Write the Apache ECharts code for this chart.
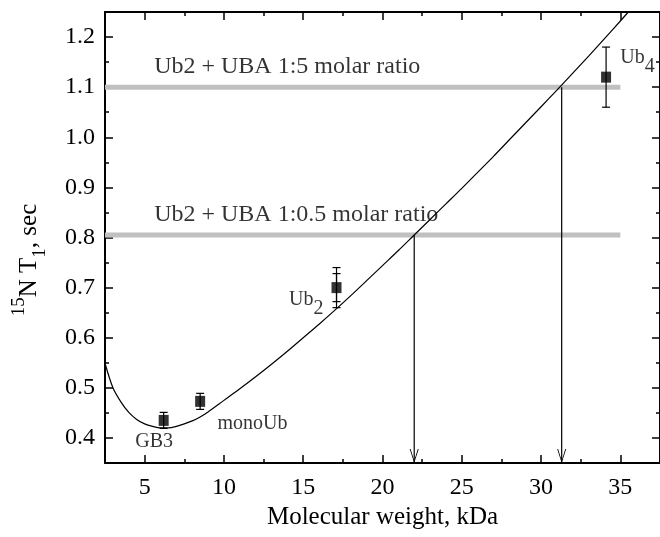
<!DOCTYPE html>
<html><head><meta charset="utf-8">
<script src="https://cdn.jsdelivr.net/npm/echarts@6/dist/echarts.min.js"></script>
<style>html,body{margin:0;padding:0;background:#fff}#c{width:660px;height:537px}</style>
</head><body><div id="c"></div>
<script>
// ---- data ----
const xMajorTicks = [5, 10, 15, 20, 25, 30, 35];
const xMinorTicks = [7.5, 12.5, 17.5, 22.5, 27.5, 32.5];
const yMajorTicks = [0.4, 0.5, 0.6, 0.7, 0.8, 0.9, 1.0, 1.1, 1.2];
const yMinorTicks = [0.45, 0.55, 0.65, 0.75, 0.85, 0.95, 1.05, 1.15];

const pointNames = ['GB3', 'monoUb', 'Ub2', 'Ub4'];
const pointX = [6.2, 8.5, 17.1, 34.1];
const pointY = [0.435, 0.473, 0.700, 1.120];
const pointErr = [0.016, 0.016, 0.040, 0.060];
const pointErrInner = [null, null, 0.028, null];

const fitX = [2.5,3,3.5,4,4.5,5,5.5,6,6.5,7,7.5,8,8.5,9,10,11,12,13,14,15,16,17,18,19,20,21,22,23,24,25,26,27,28,29,30,31,32,33,34,35,35.5];
const fitY = [0.549,0.500,0.472,0.451,0.437,0.428,0.423,0.420,0.420,0.423,0.428,0.434,0.442,0.452,0.475,0.498,0.522,0.547,0.573,0.600,0.627,0.655,0.684,0.714,0.744,0.774,0.805,0.836,0.867,0.898,0.930,0.962,0.995,1.028,1.061,1.094,1.128,1.162,1.197,1.232,1.250];

const refLevels = [1.10, 0.805];
const refStart = [2.5, 2.5];
const refEnd = [35, 35];
const refLabels = ['Ub2 + UBA 1:5 molar ratio', 'Ub2 + UBA 1:0.5 molar ratio'];
const arrowX = [31.3, 22.0];

// label anchors (data coords)
const refLabelX = [5.6, 5.6];
const refLabelY = [1.14, 0.845];
const pointLabelX = [5.6, 11.8, 14.1, 35.0];
const pointLabelY = [0.393, 0.428, 0.675, 1.159];
const pointLabelAlign = ['center', 'center', 'left', 'left'];
const pointLabelText = ['GB3', 'monoUb', 'Ub{s|2}', 'Ub{s|4}'];

// ---- chart ----
const FONT = 'Liberation Serif';
const XMIN = 2.5, XMAX = 37.5, YMIN = 0.35, YMAX = 1.25;
const black = '#000';

function xAx(pos, ticks, len, showLine, labels) {
  return {
    type: 'value', min: XMIN, max: XMAX, position: pos, gridIndex: 0,
    axisLine: {show: showLine, onZero: false, lineStyle: {color: black, width: 2}},
    axisTick: {show: true, inside: true, length: len, customValues: ticks, lineStyle: {color: black, width: 1.5}},
    axisLabel: labels ? {show: true, customValues: ticks, color: black, fontFamily: FONT, fontSize: 24, margin: 13} : {show: false},
    splitLine: {show: false}
  };
}
function yAx(pos, ticks, len, showLine, labels) {
  return {
    type: 'value', min: YMIN, max: YMAX, position: pos, gridIndex: 0,
    axisLine: {show: showLine, onZero: false, lineStyle: {color: black, width: 2}},
    axisTick: {show: true, inside: true, length: len, customValues: ticks, lineStyle: {color: black, width: 1.5}},
    axisLabel: labels ? {show: true, customValues: ticks, color: black, fontFamily: FONT, fontSize: 24, margin: 10,
      formatter: v => v.toFixed(1)} : {show: false},
    splitLine: {show: false}
  };
}

const xAxes = [
  xAx('bottom', xMajorTicks, 8, true, true),
  xAx('bottom', xMinorTicks, 4, false, false),
  xAx('top', xMajorTicks, 8, true, false),
  xAx('top', xMinorTicks, 4, false, false)
];
xAxes[0].name = 'Molecular weight, kDa';
xAxes[0].nameLocation = 'middle';
xAxes[0].nameGap = 38;
xAxes[0].nameTextStyle = {color: black, fontFamily: FONT, fontSize: 25};

const yAxes = [
  yAx('left', yMajorTicks, 8, true, true),
  yAx('left', yMinorTicks, 4, false, false),
  yAx('right', yMajorTicks, 8, true, false),
  yAx('right', yMinorTicks, 4, false, false)
];

const series = [];

refLevels.forEach((lvl, i) => {
  series.push({
    type: 'line', xAxisIndex: 0, yAxisIndex: 0, symbol: 'none', silent: true,
    data: [[refStart[i], lvl], [refEnd[i], lvl]],
    lineStyle: {color: '#c0c0c0', width: 5}, z: 1
  });
});

series.push({
  type: 'line', xAxisIndex: 0, yAxisIndex: 0, symbol: 'none', smooth: 0.3,
  data: fitX.map((x, i) => [x, fitY[i]]),
  lineStyle: {color: black, width: 1.2}, z: 3
});

const arrowPath = 'path://M0,0L5,14L10,0L9,0L5,11.5L1,0Z';
arrowX.forEach((x, i) => {
  series.push({
    type: 'line', xAxisIndex: 0, yAxisIndex: 0,
    symbol: arrowPath, symbolSize: [9, 14], symbolKeepAspect: false, symbolOffset: [0, '-50%'],
    showSymbol: true, clip: false,
    itemStyle: {color: black},
    data: [{value: [x, refLevels[i]], symbol: 'none'}, {value: [x, YMIN]}],
    lineStyle: {color: black, width: 1.2}, z: 4
  });
});

function errRender(params, api) {
  const x = api.value(0), y = api.value(1), e = api.value(2);
  const t = api.coord([x, y + e]), b = api.coord([x, y - e]);
  const w = 4;
  const st = {stroke: black, lineWidth: 1.2};
  return {type: 'group', children: [
    {type: 'line', shape: {x1: t[0], y1: t[1], x2: b[0], y2: b[1]}, style: st},
    {type: 'line', shape: {x1: t[0] - w, y1: t[1], x2: t[0] + w, y2: t[1]}, style: st},
    {type: 'line', shape: {x1: b[0] - w, y1: b[1], x2: b[0] + w, y2: b[1]}, style: st}
  ]};
}
series.push({
  type: 'custom', xAxisIndex: 0, yAxisIndex: 0, renderItem: errRender, encode: {x: 0, y: 1},
  data: pointX.map((x, i) => [x, pointY[i], pointErr[i]]), z: 5, silent: true
});
series.push({
  type: 'custom', xAxisIndex: 0, yAxisIndex: 0, renderItem: errRender, encode: {x: 0, y: 1},
  data: pointX.map((x, i) => [x, pointY[i], pointErrInner[i]]).filter(d => d[2] != null), z: 5, silent: true
});

series.push({
  type: 'scatter', xAxisIndex: 0, yAxisIndex: 0, symbol: 'rect', symbolSize: [10, 11],
  itemStyle: {color: black}, data: pointX.map((x, i) => ({name: pointNames[i], value: [x, pointY[i]]})), z: 6
});

// point labels
series.push({
  type: 'scatter', xAxisIndex: 0, yAxisIndex: 0, symbolSize: 0, silent: true, z: 7,
  data: pointLabelX.map((x, i) => ({
    value: [x, pointLabelY[i]],
    label: {show: true, position: 'inside', align: pointLabelAlign[i], verticalAlign: 'middle',
      formatter: pointLabelText[i],
      rich: {s: {fontFamily: FONT, fontSize: 20, color: black, padding: [18, 0, 0, 0]}}}
  })),
  label: {show: true, color: black, fontFamily: FONT, fontSize: 20}
});

// ref labels
series.push({
  type: 'scatter', xAxisIndex: 0, yAxisIndex: 0, symbolSize: 0, silent: true, z: 7,
  data: refLabelX.map((x, i) => ({
    value: [x, refLabelY[i]],
    label: {show: true, position: 'inside', align: 'left', verticalAlign: 'middle', formatter: refLabels[i]}
  })),
  label: {show: true, color: black, fontFamily: FONT, fontSize: 24}
});

const chart = echarts.init(document.getElementById('c'), null, {renderer: 'canvas'});
chart.setOption({
  animation: false,
  backgroundColor: '#fff',
  grid: {left: 105, top: 12, width: 557, height: 451, containLabel: false},
  xAxis: xAxes,
  yAxis: yAxes,
  series: series,
  graphic: [{
    type: 'text', x: 30, y: 260, rotation: Math.PI / 2,
    style: {
      text: '{p|15}{n|N T}{b|1}{n|, sec}',
      align: 'center', verticalAlign: 'middle',
      rich: {
        p: {fontFamily: FONT, fontSize: 19, fill: black, verticalAlign: 'top'},
        n: {fontFamily: FONT, fontSize: 25, fill: black, verticalAlign: 'top', padding: [7, 0, 0, 0]},
        b: {fontFamily: FONT, fontSize: 19, fill: black, verticalAlign: 'top', padding: [21, 0, 0, 0]}
      }
    }
  }]
});
</script>
</body></html>
